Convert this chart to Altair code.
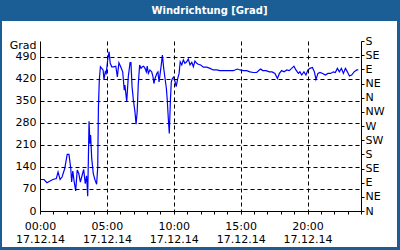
import altair as alt
import pandas as pd

# minutes since 00:00 on 17.12.14, wind direction in degrees (continuous, >360 wraps)
minutes = [0, 18, 31, 45, 58, 73, 81, 90, 99, 111, 122, 130, 138, 142, 147, 153, 160, 167, 174, 181,
           187, 196, 203, 209, 214, 220, 224, 227, 232, 239, 247, 254, 259, 262, 266, 271, 277, 283, 287, 293,
           297, 304, 310, 315, 322, 331, 340, 347, 354, 362, 371, 378, 381, 389, 396, 404, 408, 413, 419, 426,
           431, 436, 441, 447, 453, 459, 465, 471, 477, 481, 486, 493, 501, 507, 511, 516, 524, 529, 534, 540,
           544, 549, 555, 561, 567, 571, 576, 580, 585, 589, 594, 600, 606, 611, 618, 624, 629, 636, 643, 650,
           658, 665, 673, 681, 688, 695, 703, 710, 721, 733, 748, 763, 777, 793, 807, 822, 838, 852, 867, 875,
           885, 897, 912, 927, 942, 957, 972, 984, 990, 999, 1014, 1029, 1041, 1054, 1065, 1074, 1084, 1095, 1107, 1118,
           1129, 1139, 1148, 1159, 1166, 1174, 1184, 1193, 1202, 1211, 1222, 1231, 1238, 1247, 1256, 1268, 1280, 1292, 1304, 1316,
           1325, 1334, 1343, 1352, 1361, 1370, 1379, 1388, 1398, 1409, 1421, 1428]
degrees = [100, 100, 90, 95, 100, 103, 124, 100, 108, 135, 180, 180, 135, 92, 127, 95, 64, 130, 119, 92,
           108, 132, 87, 112, 47, 285, 214, 241, 167, 119, 98, 85, 140, 326, 416, 458, 453, 448, 418, 442,
           437, 482, 506, 469, 458, 458, 460, 426, 471, 458, 442, 384, 400, 347, 426, 471, 471, 395, 352, 315,
           276, 315, 405, 464, 453, 458, 460, 453, 442, 460, 437, 448, 442, 426, 405, 421, 437, 442, 410, 442,
           464, 495, 453, 421, 389, 352, 289, 246, 352, 410, 421, 426, 410, 395, 421, 437, 474, 464, 480, 469,
           474, 483, 464, 472, 458, 476, 469, 466, 464, 457, 457, 453, 448, 448, 446, 446, 446, 446, 446, 448,
           451, 448, 446, 446, 442, 440, 440, 448, 451, 446, 446, 442, 442, 437, 421, 437, 446, 442, 448, 446,
           453, 460, 448, 437, 442, 432, 442, 432, 448, 453, 456, 442, 418, 437, 440, 437, 432, 437, 437, 442,
           440, 453, 442, 453, 437, 453, 442, 429, 432, 442, 448, 448]

left_ticks = [0, 70, 140, 210, 280, 350, 420, 490]
right_ticks = [0, 45, 90, 135, 180, 225, 270, 315, 360, 405, 450, 495, 540]
compass = ["N", "NE", "E", "SE", "S", "SW", "W", "NW", "N", "NE", "E", "SE", "S"]
hour_ticks = list(range(0, 1441, 60))
date_label = "17.12.14"
title_text = "Windrichtung [Grad]"

df = pd.DataFrame({"min": minutes, "deg": degrees})

FONT = "DejaVu Sans"
W, H = 321, 170

x_enc = alt.X(
    "min:Q",
    scale=alt.Scale(domain=[0, 1440], nice=False, zero=False),
    axis=alt.Axis(
        values=hour_ticks,
        title=None,
        labelExpr=(
            "datum.value % 300 === 0 ? [pad(toString(datum.value/60), 2, '0', 'left') + ':00', '"
            + date_label + "'] : ''"
        ),
        labelBaseline="top",
        labelLineHeight=13,
        labelPadding=6,
        labelFont=FONT,
        labelFontSize=11,
        labelColor="black",
        labelOverlap=False,
        labelFlush=False,
        tickSize=3,
        tickColor="black",
        domainColor="black",
        grid=True,
        gridColor="black",
        gridDash=[4, 3],
        gridOpacity={"condition": {"test": "datum.value % 300 === 0 && datum.value > 0 && datum.value < 1440", "value": 1}, "value": 0},
        zindex=1,
    ),
)

bg = alt.Chart(pd.DataFrame({"a": [0]})).mark_rect(color="#ffffff").encode(
    x=alt.value(-38), x2=alt.value(W + 36), y=alt.value(-20), y2=alt.value(H + 36)
)

line = alt.Chart(df).mark_line(color="#0000ff", strokeWidth=1.2).encode(
    x=x_enc,
    y=alt.Y(
        "deg:Q",
        scale=alt.Scale(domain=[0, 540], nice=False),
        axis=alt.Axis(
            values=left_ticks,
            title="Grad",
            titleAngle=0,
            titleAlign="right",
            titleBaseline="middle",
            titleX=-4,
            titleY=4,
            titleFont=FONT,
            titleFontSize=11,
            titleFontWeight="normal",
            titleColor="black",
            labelFont=FONT,
            labelFontSize=11,
            labelColor="black",
            labelPadding=4,
            tickSize=0,
            domainColor="black",
            gridColor="black",
            gridDash=[4, 3],
            zindex=1,
        ),
    ),
)

compass_expr = "[" + ",".join("'" + c + "'" for c in compass) + "][datum.value/45]"

right = alt.Chart(df).mark_line(strokeOpacity=0).encode(
    x=x_enc,
    y=alt.Y(
        "deg:Q",
        scale=alt.Scale(domain=[0, 540], nice=False),
        axis=alt.Axis(
            orient="right",
            values=right_ticks,
            labelExpr=compass_expr,
            title=None,
            labelFont=FONT,
            labelFontSize=11,
            labelColor="black",
            labelPadding=1,
            labelOverlap=False,
            labelFlush=False,
            tickSize=3,
            tickColor="black",
            domainColor="black",
            grid=False,
            zindex=1,
        ),
    ),
)

chart = (
    alt.layer(bg, line, right)
    .resolve_scale(y="independent")
    .properties(
        width=W,
        height=H,
        autosize=alt.AutoSizeParams(type="none"),
        padding={"left": 40, "top": 41, "right": 39, "bottom": 39},
        background="#1b5e95",
        title=alt.TitleParams(
            title_text,
            color="white",
            font=FONT,
            fontSize=10,
            fontWeight="bold",
            anchor="middle",
            dx=9,
            offset=5,
        ),
    )
    .configure_view(stroke="black", strokeWidth=1)
)

chart.save("out.html", embed_options={"renderer": "svg", "actions": False})
